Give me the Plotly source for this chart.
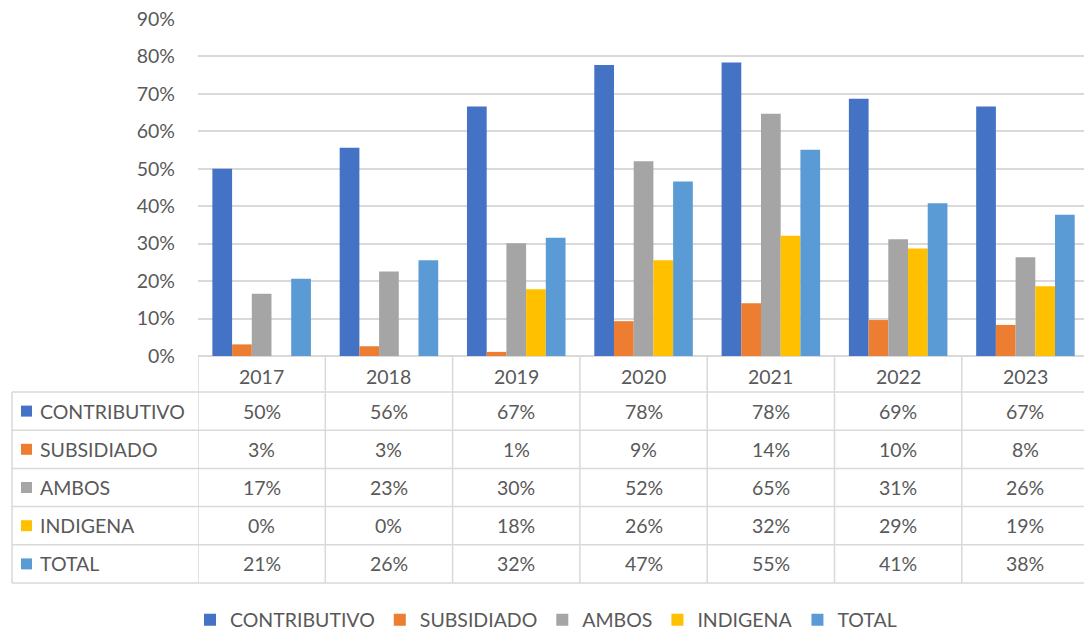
import plotly.graph_objects as go

years = ["2017", "2018", "2019", "2020", "2021", "2022", "2023"]
series_names = ["CONTRIBUTIVO", "SUBSIDIADO", "AMBOS", "INDIGENA", "TOTAL"]
contributivo = [0.500, 0.556, 0.666, 0.777, 0.784, 0.687, 0.666]
subsidiado = [0.031, 0.026, 0.011, 0.093, 0.141, 0.096, 0.083]
ambos = [0.166, 0.226, 0.301, 0.520, 0.647, 0.312, 0.264]
indigena = [0.0, 0.0, 0.178, 0.256, 0.321, 0.287, 0.186]
total = [0.206, 0.256, 0.316, 0.466, 0.551, 0.408, 0.377]
colors = ["#4472C4", "#ED7D31", "#A5A5A5", "#FFC000", "#5B9BD5"]
y_ticks = [0, 0.1, 0.2, 0.3, 0.4, 0.5, 0.6, 0.7, 0.8, 0.9]

all_series = [contributivo, subsidiado, ambos, indigena, total]

W, H = 1084, 631
L, R, T, B = 198, 0, 19, 275
PW = W - L - R
PH = H - T - B
FONT = "Lato"
FS = 19.5
TXT = "#595959"
GRID = "#D9D9D9"


def pyr(p):
    return (H - B - p) / PH


def pxr(p):
    return (p - L) / PW


def pct(v):
    return f"{int(v * 100 + 0.5)}%"


fig = go.Figure()
xs = list(range(len(years)))
for name, vals, col in zip(series_names, all_series, colors):
    fig.add_trace(go.Bar(x=xs, y=vals, name=name, marker=dict(color=col, line=dict(width=0))))

cat_w = 127.3
span = PW / cat_w

shapes = []
annotations = []
for i in range(len(years) + 1):
    shapes.append(dict(type="line", xref="x", yref="paper", x0=i - 0.5, x1=i - 0.5,
                       y0=pyr(356), y1=pyr(583), line=dict(color=GRID, width=1.5)))
shapes.append(dict(type="line", xref="paper", yref="paper", x0=pxr(12), x1=pxr(12),
                   y0=pyr(392), y1=pyr(583), line=dict(color=GRID, width=1.5)))
row_edges = [392, 430.2, 468.4, 506.6, 544.8, 583]
for yy in row_edges:
    shapes.append(dict(type="line", xref="paper", yref="paper", x0=pxr(12), x1=1.0,
                       y0=pyr(yy), y1=pyr(yy), line=dict(color=GRID, width=1.5)))

for i, yr in enumerate(years):
    annotations.append(dict(x=i, y=pyr(376), xref="x", yref="paper", text=yr, showarrow=False,
                            font=dict(family=FONT, size=FS, color=TXT), xanchor="center", yanchor="middle"))

for r, (name, vals, col) in enumerate(zip(series_names, all_series, colors)):
    cy = (row_edges[r] + row_edges[r + 1]) / 2
    shapes.append(dict(type="rect", xref="paper", yref="paper", x0=pxr(21), x1=pxr(32),
                       y0=pyr(cy + 5.5), y1=pyr(cy - 5.5), fillcolor=col, line=dict(width=0)))
    annotations.append(dict(x=pxr(38), y=pyr(cy), xref="paper", yref="paper", text=name, showarrow=False,
                            font=dict(family=FONT, size=FS, color=TXT), xanchor="left", yanchor="middle"))
    for i, v in enumerate(vals):
        annotations.append(dict(x=i, y=pyr(cy), xref="x", yref="paper", text=pct(v),
                                showarrow=False, font=dict(family=FONT, size=FS, color=TXT),
                                xanchor="center", yanchor="middle"))

fig.update_layout(
    width=W, height=H,
    margin=dict(l=L, r=R, t=T, b=B, pad=0, autoexpand=False),
    paper_bgcolor="white", plot_bgcolor="white",
    barmode="group", bargap=0.226, bargroupgap=0,
    font=dict(family=FONT, size=FS, color=TXT),
    xaxis=dict(range=[-0.5, -0.5 + span], showticklabels=False, showgrid=False, zeroline=False,
               showline=False, ticks="", automargin=False),
    yaxis=dict(range=[0, 0.9], tickvals=y_ticks, tickformat=".0%", showgrid=True, gridcolor=GRID,
               gridwidth=1.5, zeroline=True, zerolinecolor=GRID, zerolinewidth=1.5, showline=False,
               ticks="", ticklabelstandoff=22, automargin=False,
               tickfont=dict(family=FONT, size=FS, color=TXT)),
    legend=dict(orientation="h", xref="paper", yref="paper", x=pxr(546), y=pyr(620),
                xanchor="center", yanchor="middle", font=dict(family=FONT, size=FS, color=TXT),
                itemwidth=30, traceorder="normal"),
    shapes=shapes,
    annotations=annotations,
)

fig.write_html("out.html", config={"displayModeBar": False},
               post_script="document.body.style.margin='0';document.body.style.overflow='hidden';")
